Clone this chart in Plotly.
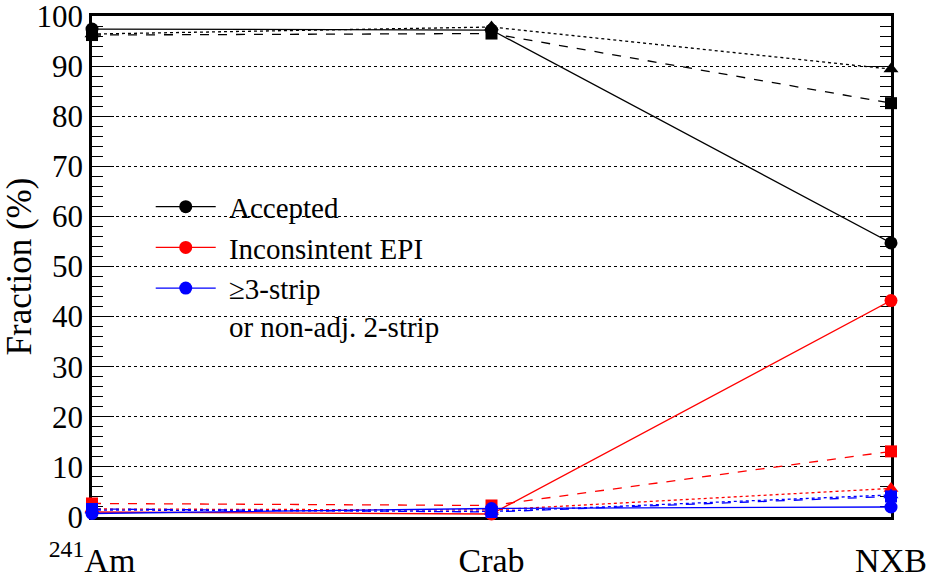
import plotly.graph_objects as go

# ---- data ----
sources = ["<sup>241</sup>Am", "Crab", "NXB"]
xpos = [0, 1, 2]

accepted_circ = [97.4, 97.2, 54.7]
accepted_sq = [96.2, 96.5, 82.6]
accepted_tri = [96.4, 97.8, 89.4]

epi_circ = [1.0, 0.6, 43.2]
epi_sq = [2.7, 2.3, 13.1]
epi_tri = [1.6, 1.4, 5.7]

strip_circ = [0.7, 1.7, 2.0]
strip_sq = [1.6, 1.0, 4.1]
strip_tri = [1.4, 1.1, 4.4]

PAD = "\u2009\u200a"
names = [PAD + "Accepted", PAD + "Inconsintent EPI",
         PAD + "\u22653-strip<br>" + PAD + "or non-adj. 2-strip"]
colors = ["black", "#ff0000", "#0000ff"]
groups = [
    (accepted_tri, accepted_sq, accepted_circ),
    (epi_tri, epi_sq, epi_circ),
    (strip_tri, strip_sq, strip_circ),
]

FONT = "Liberation Serif"

fig = go.Figure()
for name, col, (tri, sq, circ) in zip(names, colors, groups):
    fig.add_trace(go.Scatter(
        x=xpos, y=tri, mode="lines+markers", showlegend=False,
        line=dict(color=col, width=1.3, dash="dot"),
        marker=dict(symbol="triangle-up", size=13, color=col),
        cliponaxis=False, hoverinfo="skip"))
    fig.add_trace(go.Scatter(
        x=xpos, y=sq, mode="lines+markers", showlegend=False,
        line=dict(color=col, width=1.3, dash="dash"),
        marker=dict(symbol="square", size=12, color=col),
        cliponaxis=False, hoverinfo="skip"))
    fig.add_trace(go.Scatter(
        x=xpos, y=circ, mode="lines+markers", name=name,
        line=dict(color=col, width=1.3),
        marker=dict(symbol="circle", size=13, color=col),
        cliponaxis=False, hoverinfo="skip"))

# white legend box hiding gridlines (as in the reference)
fig.add_shape(type="rect", xref="paper", yref="paper",
              x0=0.0626, x1=0.498, y0=0.353, y1=0.663,
              fillcolor="white", line=dict(width=0), layer="between")

fig.update_layout(
    width=933, height=581,
    margin=dict(l=92, r=42, t=16, b=64, autoexpand=False),
    paper_bgcolor="white", plot_bgcolor="white",
    font=dict(family=FONT, color="black"),
    showlegend=True,
    legend=dict(
        x=0.0735, y=0.670, xanchor="left", yanchor="top",
        bgcolor="rgba(0,0,0,0)", borderwidth=0,
        font=dict(family=FONT, size=29, color="black"),
        itemwidth=60, valign="top", tracegroupgap=0,
    ),
    xaxis=dict(
        range=[0, 2], tickvals=xpos, ticktext=sources,
        ticks="", showgrid=False, zeroline=False,
        showline=True, linecolor="black", linewidth=2.5, mirror=True,
        tickfont=dict(family=FONT, size=34, color="black"),
        ticklabelstandoff=11, automargin=False,
        layer="below traces",
    ),
    yaxis=dict(
        range=[0, 100], tickvals=list(range(0, 101, 10)),
        showgrid=True, gridcolor="black", gridwidth=1, griddash="dot",
        zeroline=False,
        showline=True, linecolor="black", linewidth=2.5, mirror="allticks",
        ticks="inside", ticklen=22, tickwidth=1, tickcolor="black",
        minor=dict(dtick=2, ticks="inside", ticklen=11, tickwidth=1,
                   tickcolor="black", showgrid=False),
        tickfont=dict(family=FONT, size=31, color="black"),
        ticklabeloverflow="allow", automargin=False,
        title=dict(text="Fraction (%)", standoff=4,
                   font=dict(family=FONT, size=35, color="black")),
        layer="below traces",
    ),
)

fig.write_html("out.html")
